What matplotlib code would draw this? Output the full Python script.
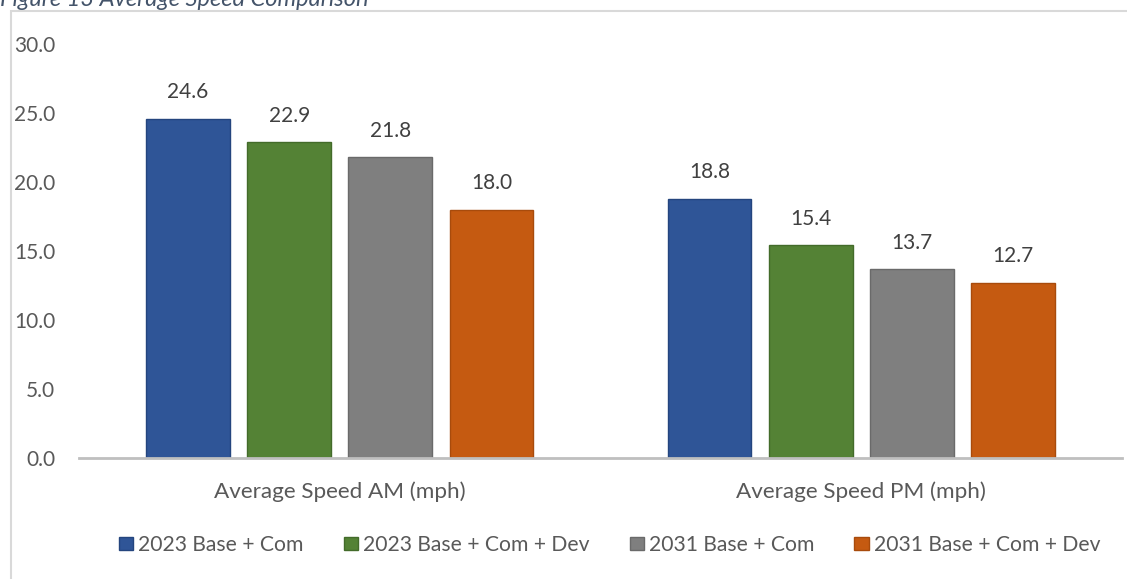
import matplotlib.pyplot as plt
from matplotlib.patches import Patch, Rectangle
import numpy as np

plt.rcParams.update({
    'font.family': ['Lato', 'DejaVu Sans'],
    'font.size': 15,
    'text.color': '#595959',
    'xtick.color': '#595959',
    'ytick.color': '#595959',
})

# categories and series
categories = ['Average Speed AM (mph)', 'Average Speed PM (mph)']
series_names = ['2023 Base + Com', '2023 Base + Com + Dev',
                '2031 Base + Com', '2031 Base + Com + Dev']
base_com_2023 = [24.6, 18.8]
base_com_dev_2023 = [22.9, 15.4]
base_com_2031 = [21.8, 13.7]
base_com_dev_2031 = [18.0, 12.7]
y_ticks = [0, 5, 10, 15, 20, 25, 30]

series = [base_com_2023, base_com_dev_2023, base_com_2031, base_com_dev_2031]
face_colors = ['#2F5597', '#548235', '#7F7F7F', '#C55A11']
edge_colors = ['#24457E', '#436B2A', '#6A6A6A', '#A84B0C']

W, H = 1127, 579
fig = plt.figure(figsize=(W / 100, H / 100), dpi=100)
ax = fig.add_axes([79 / W, 1 - 458 / H, (1122 - 79) / W, (458 - 44) / H])

x = np.arange(len(categories))
width = 0.161
step = 0.194
offsets = (np.arange(len(series)) - 1.5) * step

for vals, off, fc, ec in zip(series, offsets, face_colors, edge_colors):
    bars = ax.bar(x + off, vals, width, color=fc, edgecolor=ec, linewidth=1.0, zorder=3)
    for b, v in zip(bars, vals):
        ax.annotate(f'{v:.1f}', (b.get_x() + b.get_width() / 2, v),
                    xytext=(0, 14.7), textcoords='offset points',
                    ha='center', va='baseline', fontsize=15, color='#404040')

ax.set_xlim(-0.5, 1.5)
ax.set_ylim(0, 30)
ax.set_yticks(y_ticks)
ax.set_yticklabels([f'{t:.1f}' for t in y_ticks], fontsize=15)
ax.set_xticks(x)
ax.set_xticklabels(categories, fontsize=16.2)
ax.tick_params(axis='y', length=0, pad=17)
ax.tick_params(axis='x', length=0, pad=17)

for s in ['top', 'right', 'left']:
    ax.spines[s].set_visible(False)
ax.spines['bottom'].set_color('#BFBFBF')
ax.spines['bottom'].set_linewidth(2.0)
ax.spines['bottom'].set_zorder(4)

handles = [Patch(facecolor=fc, edgecolor=ec, label=n)
           for n, fc, ec in zip(series_names, face_colors, edge_colors)]
fig.legend(handles=handles, loc='center', ncol=4,
           bbox_to_anchor=(609.5 / W, 1 - 545 / H), frameon=False,
           fontsize=15.2, handlelength=0.67, handleheight=0.62,
           handletextpad=0.25, columnspacing=1.9, borderpad=0.2)

# outer frame of the chart area
fig.patches.append(Rectangle((11 / W, -0.1), 1.2, 1 - 11 / H + 0.1,
                             transform=fig.transFigure, fill=False,
                             edgecolor='#D9D9D9', linewidth=1.5))

fig.text(0.0, 1 - 6 / H, 'Figure 13 Average Speed Comparison',
         fontsize=17, style='italic', color='#44546A',
         ha='left', va='baseline')

fig.savefig('out.png', dpi=100)
